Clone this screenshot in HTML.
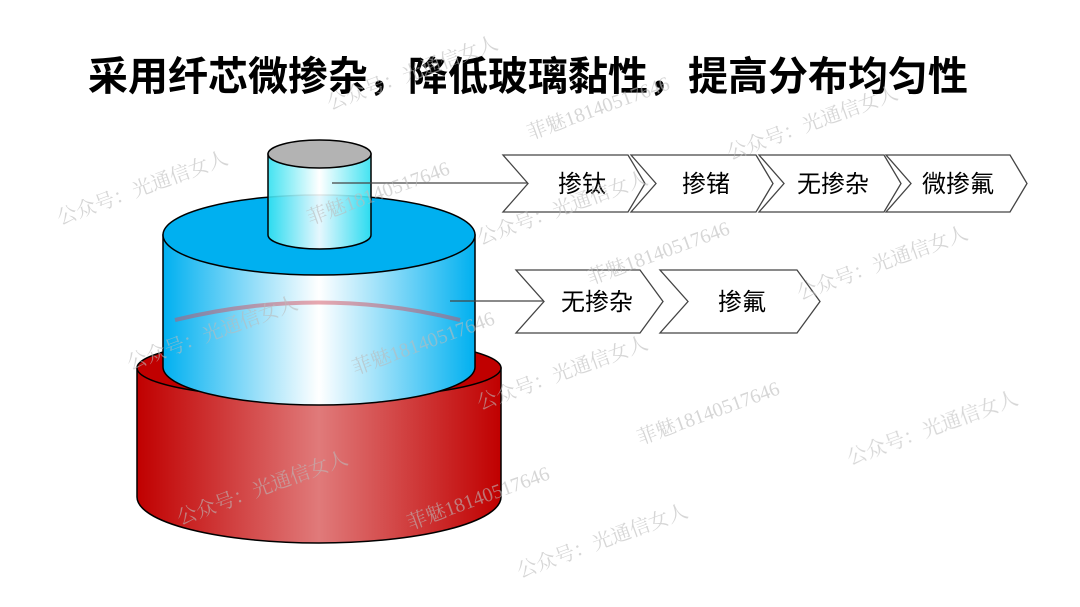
<!DOCTYPE html>
<html><head><meta charset="utf-8"><style>
html,body{margin:0;padding:0;background:#fff;}
body{width:1080px;height:607px;overflow:hidden;position:relative;font-family:"Liberation Sans","Noto Sans CJK SC",sans-serif;}
.t{position:absolute;left:0;top:44px;width:1056px;text-align:center;font-size:40px;font-weight:bold;color:#000;letter-spacing:0px;}
</style></head><body>
<div class="t">采用纤芯微掺杂，降低玻璃黏性，提高分布均匀性</div>
<svg width="1080" height="607" style="position:absolute;left:0;top:0">
<defs>
<linearGradient id="r" x1="0" x2="1"><stop offset="0" stop-color="#c00000"/><stop offset="0.5" stop-color="#e07a7a"/><stop offset="1" stop-color="#c00000"/></linearGradient>
<linearGradient id="b" x1="0" x2="1"><stop offset="0" stop-color="#00b0f0"/><stop offset="0.5" stop-color="#ffffff"/><stop offset="1" stop-color="#00b0f0"/></linearGradient>
<linearGradient id="c" x1="0" x2="1"><stop offset="0" stop-color="#30e0f0"/><stop offset="0.5" stop-color="#ffffff"/><stop offset="1" stop-color="#30e0f0"/></linearGradient>
</defs>
<g stroke="#000" stroke-width="1.5">
<path d="M137 368 L137 497 A182 46 0 0 0 501 497 L501 368 Z" fill="url(#r)"/>
<ellipse cx="319" cy="368" rx="182" ry="31" fill="#c00000"/>
<path d="M163 235 L163 367 A156 38 0 0 0 475 367 L475 235 Z" fill="url(#b)"/>
<ellipse cx="319" cy="235" rx="156" ry="40" fill="#00b0f0"/>
<path d="M268 154 L268 235 A51.5 14 0 0 0 371 235 L371 154 Z" fill="url(#c)" fill-opacity="0.9"/>
<ellipse cx="319.5" cy="154" rx="51.5" ry="14" fill="#b3b3b3"/>
</g>
<path d="M175 320 Q319 285 460 320" stroke="#d05060" stroke-width="4" fill="none" opacity="0.5"/>
<g stroke="#444" stroke-width="1.3" fill="none">
<line x1="332" y1="183" x2="528" y2="183"/>
<line x1="450" y1="301" x2="544" y2="301"/>
</g>
<g stroke="#444" stroke-width="1.3" fill="#fff">
<path d="M503 155 L628 155 L645 183.5 L628 212 L503 212 L528 183.5 Z"/>
<path d="M631 155 L756 155 L773 183.5 L756 212 L631 212 L656 183.5 Z"/>
<path d="M759 155 L884 155 L901 183.5 L884 212 L759 212 L784 183.5 Z"/>
<path d="M886 155 L1010 155 L1027 183.5 L1010 212 L886 212 L911 183.5 Z"/>
<path d="M516 270 L640 270 L663 301.5 L640 333 L516 333 L544 301.5 Z"/>
<path d="M660 270 L797 270 L820 301.5 L797 333 L660 333 L688 301.5 Z"/>
</g>
<g font-family="Liberation Sans,Noto Sans CJK SC,sans-serif" font-size="24" fill="#000" text-anchor="middle">
<text x="582" y="192">掺钛</text>
<text x="706" y="192">掺锗</text>
<text x="833" y="192">无掺杂</text>
<text x="958" y="192">微掺氟</text>
<text x="597" y="310">无掺杂</text>
<text x="742" y="310">掺氟</text>
</g>
<g font-family="Liberation Serif,Noto Serif CJK SC,serif" font-size="20" fill="#bbb" opacity="0.6">
<text transform="translate(60,225) rotate(-20)">公众号：光通信女人</text>
<text transform="translate(310,225) rotate(-20)">菲魅18140517646</text>
<text transform="translate(480,245) rotate(-20)">公众号：光通信女人</text>
<text transform="translate(530,140) rotate(-20)">菲魅18140517646</text>
<text transform="translate(730,160) rotate(-20)">公众号：光通信女人</text>
<text transform="translate(590,285) rotate(-20)">菲魅18140517646</text>
<text transform="translate(800,300) rotate(-20)">公众号：光通信女人</text>
<text transform="translate(130,370) rotate(-20)">公众号：光通信女人</text>
<text transform="translate(355,375) rotate(-20)">菲魅18140517646</text>
<text transform="translate(480,410) rotate(-20)">公众号：光通信女人</text>
<text transform="translate(640,445) rotate(-20)">菲魅18140517646</text>
<text transform="translate(850,465) rotate(-20)">公众号：光通信女人</text>
<text transform="translate(180,525) rotate(-20)">公众号：光通信女人</text>
<text transform="translate(410,530) rotate(-20)">菲魅18140517646</text>
<text transform="translate(520,578) rotate(-20)">公众号：光通信女人</text>
<text transform="translate(330,110) rotate(-20)">公众号：光通信女人</text>
</g>
</svg>
</body></html>
